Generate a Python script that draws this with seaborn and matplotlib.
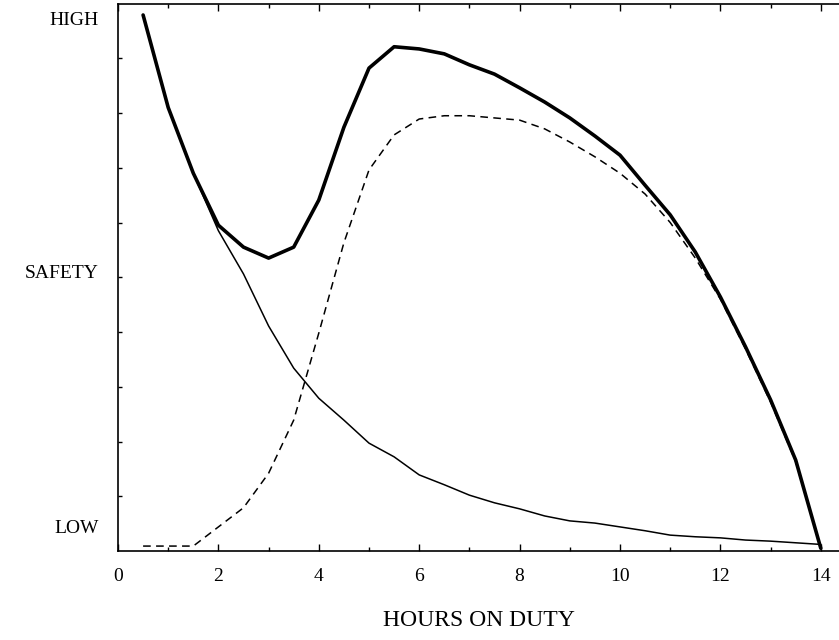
import numpy as np
import pandas as pd
import matplotlib
matplotlib.use("Agg")
import matplotlib.pyplot as plt
import seaborn as sns

hours = [0.5, 1.0, 1.5, 2.0, 2.5, 3.0, 3.5, 4.0, 4.5, 5.0, 5.5, 6.0, 6.5, 7.0,
         7.5, 8.0, 8.5, 9.0, 9.5, 10.0, 10.5, 11.0, 11.5, 12.0, 12.5, 13.0, 13.5, 14.0]

total_safety = [9.79, 8.10, 6.90, 5.95, 5.55, 5.35, 5.55, 6.41, 7.74, 8.82, 9.21, 9.17,
                9.08, 8.88, 8.71, 8.46, 8.20, 7.91, 7.58, 7.23, 6.68, 6.14, 5.46, 4.64,
                3.73, 2.76, 1.66, 0.05]

declining = [9.79, 8.10, 6.90, 5.85, 5.06, 4.11, 3.34, 2.79, 2.39, 1.97, 1.72, 1.39,
             1.21, 1.02, 0.88, 0.77, 0.64, 0.55, 0.51, 0.44, 0.37, 0.29, 0.26, 0.24,
             0.20, 0.18, 0.15, 0.12]

rising = [0.09, 0.09, 0.09, 0.44, 0.79, 1.42, 2.39, 3.98, 5.63, 6.96, 7.60, 7.89,
          7.95, 7.95, 7.91, 7.87, 7.71, 7.47, 7.20, 6.90, 6.52, 6.00, 5.35, 4.60,
          3.69, 2.72, 1.63, 0.05]

x_ticks = [0, 2, 4, 6, 8, 10, 12, 14]
x_tick_labels = ["0", "2", "4", "6", "8", "10", "12", "14"]
y_labels = {"HIGH": 9.69, "SAFETY": 5.07, "LOW": 0.42}

sns.set_style("ticks")
plt.rcParams["font.family"] = ["Liberation Serif", "DejaVu Serif"]
plt.rcParams["text.color"] = "black"
plt.rcParams["axes.labelcolor"] = "black"
plt.rcParams["xtick.color"] = "black"
plt.rcParams["ytick.color"] = "black"

W, H = 839, 640
fig = plt.figure(figsize=(W / 100, H / 100), dpi=100)
ax = fig.add_axes([118 / W, 89 / H, (W - 118) / W, (551 - 3.5) / H])

df = pd.DataFrame({"hours": hours, "total": total_safety,
                   "declining": declining, "rising": rising})

sns.lineplot(data=df, x="hours", y="declining", ax=ax, color="black", lw=1.1)
sns.lineplot(data=df, x="hours", y="rising", ax=ax, color="black", lw=1.1,
             dashes=False, linestyle=(0, (5, 3.5)))
sns.lineplot(data=df, x="hours", y="total", ax=ax, color="black", lw=2.6)

ax.set_xlim(0, (W - 118) / 50.2)
ax.set_ylim(0, 10)

ax.set_xticks(x_ticks)
ax.set_xticklabels(x_tick_labels, fontsize=14)
ax.set_xticks(range(1, 15, 2), minor=True)
ax.set_yticks(range(1, 10))
ax.set_yticklabels([])
ax.tick_params(axis="x", which="major", direction="in", length=5, width=1,
               top=True, pad=12, colors="black")
ax.tick_params(axis="x", which="minor", direction="in", length=3, width=1, top=True)
ax.tick_params(axis="y", which="major", direction="in", length=3, width=1,
               left=True, right=False)

for s in ["left", "bottom", "top"]:
    ax.spines[s].set_linewidth(1.2)
    ax.spines[s].set_color("black")
ax.spines["right"].set_visible(False)

ax.set_xlabel("HOURS ON DUTY", fontsize=17, labelpad=18, color="black")
ax.set_ylabel("")

for txt, yv in y_labels.items():
    ax.text(-0.38, yv, txt, ha="right", va="center", fontsize=14, color="black",
            transform=ax.transData, clip_on=False)

fig.savefig("out.png", dpi=100)
